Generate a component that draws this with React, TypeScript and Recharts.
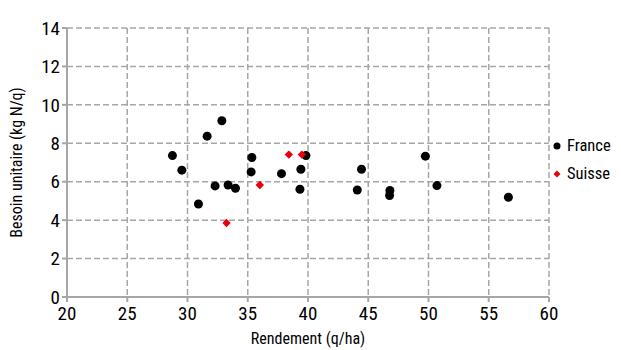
import React from 'react';
import { ScatterChart, Scatter, XAxis, YAxis, CartesianGrid, Legend } from 'recharts';

const franceX = [28.75, 29.53, 30.91, 31.63, 32.29, 32.85, 33.37, 33.98, 35.28, 35.34, 37.8, 39.33, 39.41, 39.83, 44.09, 44.44, 46.8, 46.77, 49.74, 50.7, 56.63];
const franceY = [7.36, 6.6, 4.84, 8.37, 5.78, 9.17, 5.83, 5.66, 6.51, 7.26, 6.42, 5.61, 6.65, 7.36, 5.57, 6.65, 5.54, 5.28, 7.33, 5.8, 5.19];
const suisseX = [33.24, 36.0, 38.41, 39.49];
const suisseY = [3.85, 5.83, 7.41, 7.41];
const xTicks = [20, 25, 30, 35, 40, 45, 50, 55, 60];
const yTicks = [0, 2, 4, 6, 8, 10, 12, 14];
const seriesNames = ['France', 'Suisse'];

const franceData = franceX.map((x, i) => ({ x, y: franceY[i] }));
const suisseData = suisseX.map((x, i) => ({ x, y: suisseY[i] }));

const FONT = "'Liberation Sans Narrow', 'Roboto Condensed', 'Open Sans', sans-serif";
const GRID = '#a6a6a6';

const Dot = (props: any) => {
  const { cx, cy } = props;
  return <circle cx={cx} cy={cy} r={4.5} fill="#000" />;
};
const Diamond = (props: any) => {
  const { cx, cy } = props;
  const d = 4.2;
  return <path d={`M${cx},${cy - d}L${cx + d},${cy}L${cx},${cy + d}L${cx - d},${cy}Z`} fill="#e8000b" />;
};

const LegendContent = () => (
  <div style={{ fontFamily: FONT, fontSize: 16.5, color: '#000', lineHeight: '28px' }}>
    <div style={{ display: 'flex', alignItems: 'center' }}>
      <svg width={10} height={10} style={{ marginRight: 5 }}><circle cx={5} cy={5} r={3.5} fill="#000" /></svg>
      {seriesNames[0]}
    </div>
    <div style={{ display: 'flex', alignItems: 'center' }}>
      <svg width={10} height={10} style={{ marginRight: 5 }}><path d="M5,1.5L8.5,5L5,8.5L1.5,5Z" fill="#e8000b" /></svg>
      {seriesNames[1]}
    </div>
  </div>
);

export default function App() {
  return (
    <div style={{ position: 'absolute', left: 0, top: 0, width: 621, height: 350, background: '#fff' }}>
      <ScatterChart width={621} height={350} margin={{ top: 28, right: 72, bottom: 23, left: 0 }}>
        <CartesianGrid stroke={GRID} strokeDasharray="6 3" strokeWidth={1.5} horizontalValues={yTicks} verticalValues={xTicks} />
        <XAxis
          type="number"
          dataKey="x"
          domain={[20, 60]}
          ticks={xTicks}
          height={30}
          stroke={GRID}
          strokeWidth={2}
          tickSize={5}
          tick={{ fill: '#000', fontSize: 19, fontFamily: FONT, dy: 3 }}
          label={{ value: 'Rendement (q/ha)', position: 'bottom', offset: 6, style: { fill: '#000', fontSize: 16, fontFamily: FONT } }}
        />
        <YAxis
          type="number"
          dataKey="y"
          domain={[0, 14]}
          ticks={yTicks}
          width={67}
          stroke={GRID}
          strokeWidth={2}
          tickSize={5}
          tick={{ fill: '#000', fontSize: 19, fontFamily: FONT }}
          label={{ value: 'Besoin unitaire (kg N/q)', angle: -90, position: 'insideLeft', offset: 16, style: { fill: '#000', fontSize: 16, fontFamily: FONT, textAnchor: 'middle' } }}
        />
        <Legend layout="horizontal" verticalAlign="middle" align="center" wrapperStyle={{ top: 132, left: 552, width: 70 }} content={<LegendContent />} />
        <Scatter name="France" data={franceData} shape={<Dot />} isAnimationActive={false} />
        <Scatter name="Suisse" data={suisseData} shape={<Diamond />} isAnimationActive={false} />
      </ScatterChart>
    </div>
  );
}
